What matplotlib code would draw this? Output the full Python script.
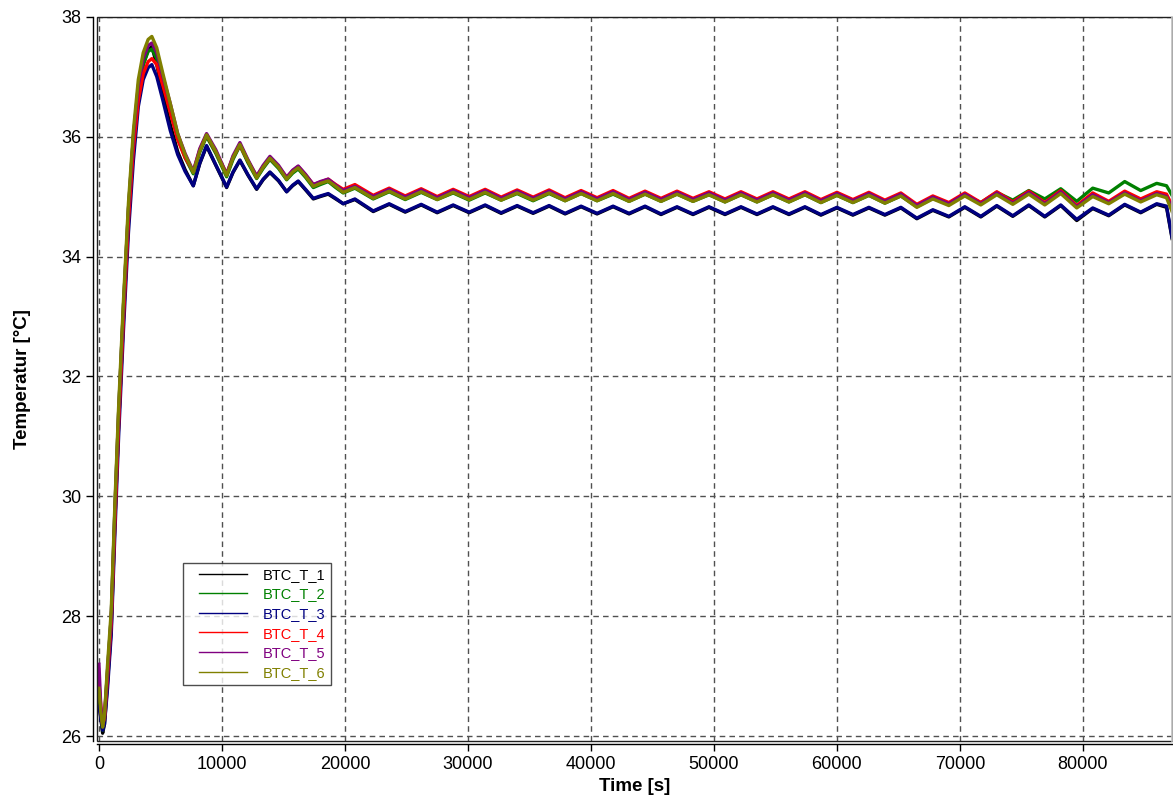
import numpy as np
import matplotlib
matplotlib.use('Agg')
import matplotlib.pyplot as plt
from matplotlib.patches import Rectangle
from matplotlib.legend_handler import HandlerLine2D

# data #######################################################################
time_s = [0, 150, 300, 450, 700, 1000, 1300, 1600, 2000, 2400, 2800, 3200, 3600, 4000,
          4300, 4700, 5200, 5800, 6400, 7000, 7670, 8200, 8750, 9500, 10380, 10900,
          11460, 12100, 12820, 13350, 13900, 14600, 15260, 15750, 16200, 16800, 17430,
          18000, 18640, 19250, 19860, 20810,
          22300, 23600, 24900, 26200, 27500, 28800, 30100, 31400, 32700, 34000,
          35300, 36600, 37900, 39200, 40500, 41800, 43100, 44400, 45700, 47000,
          48300, 49600, 50900, 52200, 53500, 54800, 56100, 57400, 58700, 60000,
          61300, 62600, 63900, 65200, 66500, 67800, 69100, 70400, 71700, 73000,
          74300, 75600, 76900, 78200, 79500, 80800, 82100, 83400, 84700, 86000,
          86800, 87250]

btc_t_1 = [26.6, 26.3, 26.05, 26.2, 26.9, 27.8, 29.6, 31.2, 33.0, 34.6, 35.85, 36.7, 37.2, 37.45,
           37.5, 37.2, 36.7, 36.2, 35.75, 35.45, 35.18, 35.55, 35.84, 35.52, 35.15, 35.4,
           35.6, 35.36, 35.12, 35.28, 35.4, 35.26, 35.08, 35.18, 35.25, 35.11, 34.96,
           35.0, 35.04, 34.96, 34.88, 34.95,
           34.75, 34.87, 34.74, 34.86, 34.73, 34.85, 34.73, 34.85, 34.72, 34.84,
           34.72, 34.84, 34.71, 34.83, 34.71, 34.83, 34.71, 34.83, 34.70, 34.82,
           34.70, 34.82, 34.70, 34.82, 34.70, 34.82, 34.70, 34.82, 34.69, 34.81,
           34.69, 34.81, 34.69, 34.81, 34.63, 34.77, 34.66, 34.82, 34.66, 34.84,
           34.67, 34.85, 34.66, 34.85, 34.60, 34.80, 34.68, 34.86, 34.73, 34.87,
           34.82, 34.30]

btc_t_2 = [26.7, 26.4, 26.1, 26.3, 27.1, 28.0, 29.8, 31.4, 33.2, 34.8, 36.0, 36.8, 37.2, 37.42,
           37.46, 37.3, 36.9, 36.45, 35.98, 35.65, 35.38, 35.74, 36.0, 35.72, 35.33, 35.62,
           35.85, 35.57, 35.3, 35.47, 35.62, 35.47, 35.28, 35.39, 35.46, 35.32, 35.15,
           35.2, 35.25, 35.15, 35.06, 35.14,
           34.96, 35.08, 34.95, 35.07, 34.95, 35.06, 34.94, 35.06, 34.94, 35.05,
           34.93, 35.05, 34.93, 35.05, 34.93, 35.04, 34.92, 35.04, 34.92, 35.04,
           34.92, 35.03, 34.91, 35.03, 34.91, 35.03, 34.91, 35.03, 34.90, 35.02,
           34.90, 35.02, 34.89, 35.01, 34.83, 34.97, 34.87, 35.03, 34.90, 35.07,
           34.94, 35.10, 34.96, 35.13, 34.92, 35.14, 35.06, 35.25, 35.10, 35.22,
           35.18, 35.02]

btc_t_3 = [26.5, 26.3, 26.1, 26.2, 26.8, 27.7, 29.4, 31.0, 32.8, 34.4, 35.6, 36.5, 36.95, 37.15,
           37.2, 37.0, 36.6, 36.1, 35.7, 35.42, 35.18, 35.56, 35.85, 35.53, 35.16, 35.41,
           35.61, 35.37, 35.13, 35.29, 35.41, 35.27, 35.08, 35.19, 35.26, 35.12, 34.97,
           35.01, 35.05, 34.97, 34.88, 34.96,
           34.76, 34.88, 34.75, 34.87, 34.74, 34.86, 34.74, 34.86, 34.73, 34.85,
           34.73, 34.85, 34.72, 34.84, 34.72, 34.84, 34.72, 34.84, 34.71, 34.83,
           34.71, 34.83, 34.71, 34.83, 34.71, 34.83, 34.71, 34.83, 34.70, 34.82,
           34.70, 34.82, 34.70, 34.82, 34.64, 34.78, 34.67, 34.83, 34.67, 34.85,
           34.68, 34.86, 34.67, 34.86, 34.62, 34.81, 34.69, 34.87, 34.74, 34.88,
           34.84, 34.32]

btc_t_4 = [26.9, 26.5, 26.2, 26.3, 27.0, 27.9, 29.6, 31.2, 33.0, 34.6, 35.8, 36.6, 37.05, 37.25,
           37.3, 37.2, 36.85, 36.4, 35.95, 35.65, 35.42, 35.78, 36.03, 35.75, 35.38, 35.66,
           35.86, 35.6, 35.34, 35.5, 35.64, 35.5, 35.32, 35.43, 35.5, 35.36, 35.2,
           35.24, 35.29, 35.2, 35.12, 35.2,
           35.02, 35.14, 35.01, 35.13, 35.00, 35.12, 35.00, 35.12, 34.99, 35.11,
           34.99, 35.11, 34.98, 35.10, 34.98, 35.10, 34.97, 35.09, 34.97, 35.09,
           34.97, 35.08, 34.96, 35.08, 34.96, 35.08, 34.96, 35.08, 34.95, 35.07,
           34.95, 35.07, 34.94, 35.06, 34.87, 35.01, 34.90, 35.06, 34.90, 35.08,
           34.91, 35.09, 34.90, 35.10, 34.85, 35.06, 34.92, 35.09, 34.96, 35.08,
           35.04, 34.85]

btc_t_5 = [27.2, 26.5, 26.2, 26.35, 27.1, 28.0, 29.8, 31.4, 33.2, 34.8, 36.0, 36.85, 37.3, 37.52,
           37.56, 37.4, 37.0, 36.55, 36.05, 35.72, 35.42, 35.8, 36.05, 35.78, 35.37, 35.68,
           35.9, 35.62, 35.34, 35.52, 35.67, 35.52, 35.32, 35.44, 35.51, 35.37, 35.2,
           35.25, 35.29, 35.19, 35.1, 35.17,
           35.00, 35.12, 34.99, 35.11, 34.98, 35.10, 34.98, 35.10, 34.97, 35.09,
           34.97, 35.09, 34.96, 35.08, 34.96, 35.08, 34.95, 35.07, 34.95, 35.07,
           34.95, 35.06, 34.94, 35.06, 34.94, 35.06, 34.94, 35.06, 34.93, 35.05,
           34.93, 35.05, 34.92, 35.04, 34.85, 34.99, 34.88, 35.04, 34.88, 35.06,
           34.89, 35.07, 34.88, 35.08, 34.83, 35.03, 34.90, 35.06, 34.93, 35.05,
           35.00, 34.80]

btc_t_6 = [26.8, 26.4, 26.15, 26.35, 27.2, 28.1, 29.9, 31.5, 33.3, 34.9, 36.1, 36.95, 37.4, 37.62,
           37.67, 37.48, 37.05, 36.55, 36.05, 35.7, 35.4, 35.76, 36.03, 35.75, 35.35, 35.65,
           35.87, 35.6, 35.31, 35.49, 35.64, 35.49, 35.29, 35.41, 35.48, 35.34, 35.17,
           35.22, 35.26, 35.17, 35.07, 35.15,
           34.97, 35.09, 34.96, 35.08, 34.95, 35.07, 34.95, 35.07, 34.94, 35.06,
           34.94, 35.06, 34.93, 35.05, 34.93, 35.05, 34.92, 35.04, 34.92, 35.04,
           34.92, 35.03, 34.91, 35.03, 34.91, 35.03, 34.91, 35.03, 34.90, 35.02,
           34.90, 35.02, 34.89, 35.01, 34.82, 34.96, 34.85, 35.01, 34.86, 35.03,
           34.87, 35.04, 34.86, 35.05, 34.81, 35.00, 34.88, 35.04, 34.91, 35.03,
           34.98, 34.75]

series_names = ['BTC_T_1', 'BTC_T_2', 'BTC_T_3', 'BTC_T_4', 'BTC_T_5', 'BTC_T_6']
series_values = [btc_t_1, btc_t_2, btc_t_3, btc_t_4, btc_t_5, btc_t_6]
series_colors = ['#000000', '#008000', '#000080', '#ff0000', '#800080', '#808000']
x_ticks = [0, 10000, 20000, 30000, 40000, 50000, 60000, 70000, 80000]
y_ticks = [26, 28, 30, 32, 34, 36, 38]
###############################################################################

plt.rcParams['font.family'] = ['Liberation Sans', 'DejaVu Sans']

fig = plt.figure(figsize=(11.73, 8.01), dpi=100)
ax = fig.add_axes([0.0831, 0.0749, 0.9160, 0.9043])

for name, vals, col in zip(series_names, series_values, series_colors):
    ax.plot(time_s, vals, color=col, lw=2.4, label=name)

ax.set_xlim(-120, 87240)
ax.set_ylim(25.92, 38.0)
ax.set_xticks(x_ticks)
ax.set_yticks(y_ticks)

ax.grid(True, color='#505050', lw=1.0, ls=(0, (4, 3)))

# origin style: detached axis lines plus a frame box
ax.spines['left'].set_position(('outward', 3.5))
ax.spines['bottom'].set_position(('outward', 2.5))
ax.spines['top'].set_visible(False)
ax.spines['right'].set_visible(False)
for s in ['left', 'bottom']:
    ax.spines[s].set_linewidth(1.0)
ax.add_patch(Rectangle((0, 0), 1, 1, transform=ax.transAxes, fill=False,
                       edgecolor='#202020', lw=1.0, clip_on=False, zorder=5))
ax.plot([1, 1], [0, 1], transform=ax.transAxes, color='#c8c8c8', lw=1.2,
        clip_on=False, zorder=6)

ax.tick_params(direction='out', length=5, width=1, labelsize=13, pad=3)

ax.set_xlabel('Time [s]', fontsize=13.5, fontweight='bold', labelpad=4)
ax.set_ylabel('Temperatur [°C]', fontsize=13.5, fontweight='bold', labelpad=22)

leg = ax.legend(loc='upper left', bbox_to_anchor=(0.080, 0.246), borderaxespad=0,
                fontsize=10.5, frameon=True, fancybox=False, edgecolor='#202020',
                handlelength=4.0, handletextpad=1.1, labelspacing=0.38,
                borderpad=0.35,
                handler_map={plt.Line2D: HandlerLine2D(xpad=0.75)})
leg.get_frame().set_linewidth(1.0)
for line in leg.get_lines():
    line.set_linewidth(1.0)
for txt, col in zip(leg.get_texts(), series_colors):
    txt.set_color(col)

plt.savefig('out.png', dpi=100)
